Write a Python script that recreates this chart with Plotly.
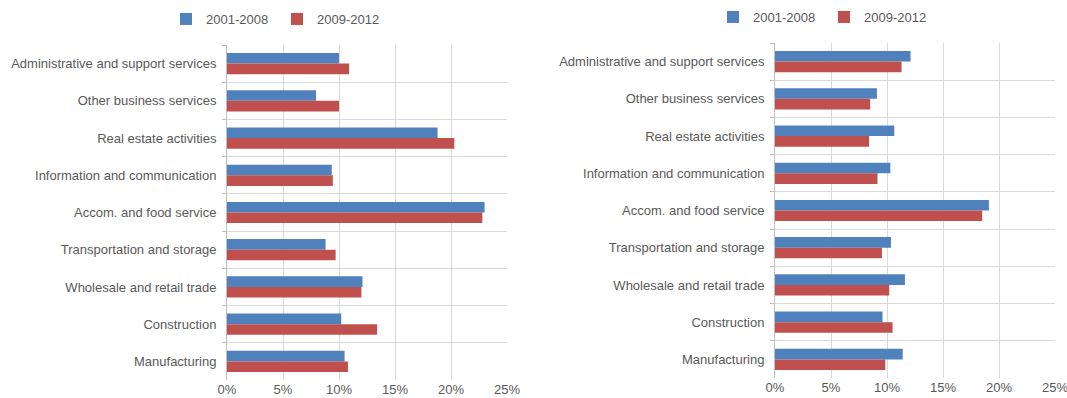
import plotly.graph_objects as go

categories = [
    "Administrative and support services",
    "Other business services",
    "Real estate activities",
    "Information and communication",
    "Accom. and food service",
    "Transportation and storage",
    "Wholesale and retail trade",
    "Construction",
    "Manufacturing",
]
series_names = ["2001-2008", "2009-2012"]

left_2001_2008 = [10.0, 7.95, 18.8, 9.35, 23.0, 8.8, 12.1, 10.2, 10.5]
left_2009_2012 = [10.9, 10.0, 20.3, 9.45, 22.8, 9.7, 12.0, 13.4, 10.8]

right_2001_2008 = [12.1, 9.1, 10.65, 10.3, 19.1, 10.35, 11.6, 9.6, 11.4]
right_2009_2012 = [11.3, 8.5, 8.4, 9.15, 18.5, 9.55, 10.2, 10.5, 9.85]

x_ticks = [0, 5, 10, 15, 20, 25]
x_tick_labels = ["0%", "5%", "10%", "15%", "20%", "25%"]

colors = ["#4F81BD", "#C0504D"]
font = "Liberation Sans, Arial, sans-serif"
txt = "#595959"
grid = "#D9D9D9"

fig = go.Figure()
for vals, name, col in [(left_2001_2008, series_names[0], colors[0]),
                        (left_2009_2012, series_names[1], colors[1])]:
    fig.add_trace(go.Bar(y=categories, x=vals, orientation="h", name=name,
                         marker=dict(color=col, line=dict(width=0)),
                         xaxis="x", yaxis="y", legend="legend"))
for vals, name, col in [(right_2001_2008, series_names[0], colors[0]),
                        (right_2009_2012, series_names[1], colors[1])]:
    fig.add_trace(go.Bar(y=categories, x=vals, orientation="h", name=name,
                         marker=dict(color=col, line=dict(width=0)),
                         xaxis="x2", yaxis="y2", legend="legend2"))

xcommon = dict(range=[0, 25], tickvals=x_ticks, ticktext=x_tick_labels,
               showgrid=True, gridcolor=grid, gridwidth=1, zeroline=False,
               showline=False, ticks="", tickfont=dict(size=13, color=txt, family=font),
               ticklabeloverflow="allow", automargin=False, fixedrange=True)
ycommon = dict(type="category", autorange="reversed", tickson="boundaries",
               showgrid=True, gridcolor=grid, gridwidth=1, showline=True,
               linecolor="#BFBFBF", linewidth=1, ticks="outside", ticklen=4,
               tickcolor="#BFBFBF", tickfont=dict(size=13, color=txt, family=font),
               ticklabelstandoff=7, automargin=False, fixedrange=True)

legend_common = dict(orientation="h", xanchor="left", yanchor="top",
                     font=dict(size=13, color=txt, family=font), itemwidth=30,
                     entrywidth=66, tracegroupgap=0, bgcolor="rgba(0,0,0,0)")

fig.update_layout(
    width=1067, height=398,
    margin=dict(l=0, r=0, t=0, b=0),
    paper_bgcolor="white", plot_bgcolor="white",
    barmode="group", bargap=0.43, bargroupgap=0,
    font=dict(family=font, size=13, color=txt),
    xaxis=dict(domain=[227/1067, 507/1067], anchor="y", **xcommon),
    yaxis=dict(domain=[1-380/398, 1-45/398], anchor="x", **ycommon),
    xaxis2=dict(domain=[775/1067, 1055/1067], anchor="y2", **xcommon),
    yaxis2=dict(domain=[1-378/398, 1-43/398], anchor="x2", **ycommon),
    legend=dict(x=166/1067, y=1-4/398, **legend_common),
    legend2=dict(x=713/1067, y=1-2/398, **legend_common),
    showlegend=True,
)

fig.write_html("out.html")
